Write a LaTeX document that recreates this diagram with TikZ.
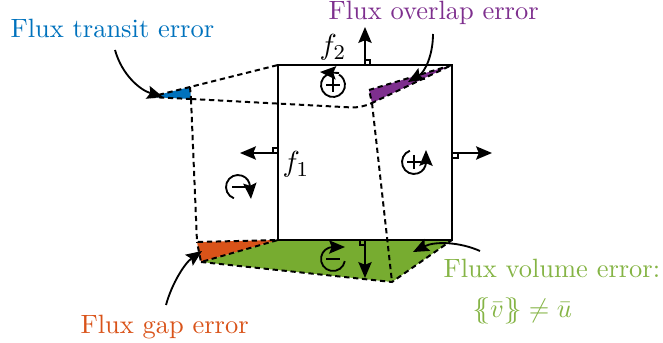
\documentclass[tikz,border=0pt]{standalone}
\usetikzlibrary{arrows.meta}
\definecolor{cblue}{RGB}{0,114,189}
\definecolor{cpurple}{RGB}{126,47,142}
\definecolor{corange}{RGB}{217,83,25}
\definecolor{cgreen}{RGB}{119,172,48}
\tikzset{
  edge/.style={line width=0.75pt,dash pattern=on 2pt off 1.4pt},
  solidl/.style={line width=0.8pt},
  tipped/.style={line width=0.7pt,-{Stealth[length=6pt,width=5pt,inset=1pt]}},
  marker/.style={line width=0.45pt},
  orient/.style={line width=0.7pt},
  lab/.style={inner sep=0pt,anchor=base west},
}
\begin{document}
\begin{tikzpicture}[x=0.378pt,y=-0.378pt]
\useasboundingbox (0,0) rectangle (663,343);
% corners
\coordinate (A) at (278,65);
\coordinate (B) at (452,65);
\coordinate (C) at (452,240);
\coordinate (D) at (278,240);
\coordinate (T1) at (150,97);
\coordinate (T2) at (190,87);
\coordinate (T3) at (191,99);
\coordinate (P1) at (369,90);
\coordinate (P2) at (372,103);
\coordinate (O1) at (197,242);
\coordinate (O2) at (201,262);
\coordinate (G) at (392,282);
% fills
\fill[cgreen] (D) -- (C) -- (G) -- (O2) -- cycle;
\fill[corange] (O1) -- (D) -- (O2) -- cycle;
\fill[cblue] (T1) -- (T2) -- (T3) -- cycle;
\fill[cpurple] (P1) -- (B) -- (P2) -- cycle;
% square
\draw[solidl,line join=miter] (A) -- (B) -- (C) -- (D) -- cycle;
% dashed deformed cell
\draw[edge] (T1) -- (T2) -- (A);
\draw[edge] (T1) -- (T3);
\draw[edge] (T2) -- (T3);
\draw[edge,rounded corners=4pt] (T3) -- (362,108) -- (P2);
\draw[edge] (T3) -- (O1) -- (D) -- (O2) -- (O1);
\draw[edge] (O2) -- (G) -- (C);
\draw[edge] (P2) -- (G);
\draw[edge] (P1) -- (B) -- (P2) -- cycle;
% normals
\coordinate (N1) at (365,65); \coordinate (N1e) at (365,27);
\coordinate (N2) at (278,153); \coordinate (N2e) at (240,153);
\coordinate (N3) at (452,153); \coordinate (N3e) at (492,153);
\coordinate (N4) at (365,240); \coordinate (N4e) at (365,278);
\draw[tipped] (N1) -- (N1e);
\draw[tipped] (N2) -- (N2e);
\draw[tipped] (N3) -- (N3e);
\draw[tipped] (N4) -- (N4e);
\draw[marker] (365,60) -- (370,60) -- (370,65);
\draw[marker] (273,153) -- (273,148) -- (278,148);
\draw[marker] (458,153) -- (458,158) -- (452,158);
\draw[marker] (365,245) -- (360,245) -- (360,240);
% orientation markers (code angle = minus the visual angle, the y axis is flipped)
\coordinate (M1) at (333,85);
\coordinate (M2) at (414,162);
\coordinate (M3) at (238,187);
\coordinate (M4) at (333,259);
\draw[orient] (M1) ++(-120:12) arc[start angle=-120,end angle=-420,radius=12];
\draw[tipped] (339,73) -- (320,72);
\draw[orient] (326,85) -- (340,85) (333,78) -- (333,92);
\draw[orient] (M2) ++(-110:12) arc[start angle=-110,end angle=-360,radius=12];
\draw[tipped] (426,163) -- (426,150);
\draw[orient] (407,162) -- (421,162) (414,155) -- (414,169);
\draw[orient] (M3) ++(-250:12) arc[start angle=-250,end angle=0,radius=12];
\draw[tipped] (250,186) -- (251,199);
\draw[orient] (232,187) -- (247,187);
\draw[orient] (M4) ++(10:12) arc[start angle=10,end angle=270,radius=12];
\draw[tipped] (331,247) -- (345,247);
\draw[orient] (326,259) -- (340,259);
% labels
\node[lab] (f1) at (282,172) {\fontsize{11}{13}\selectfont$f_1$};
\node[lab] (f2) at (319,55) {\fontsize{11}{13}\selectfont$f_2$};
\node[lab,text=cblue] (ltransit) at (10,38) {Flux transit error};
\node[lab,text=cpurple] (loverlap) at (328,20) {Flux overlap error};
\node[lab,text=corange] (lgap) at (80,333) {Flux gap error};
\node[lab,text=cgreen!90!white] (lvol) at (443,278) {Flux volume error:};
\node[lab,text=cgreen!90!white] (lvol2) at (472,318) {$\{\!\!\{\bar v\}\!\!\}\neq\bar u$};
% callouts
\coordinate (c1) at (115,50); \coordinate (c1e) at (163,97);
\coordinate (c2) at (433,34); \coordinate (c2e) at (408,82);
\coordinate (c3) at (166,305); \coordinate (c3e) at (202,251);
\coordinate (c4) at (480,251); \coordinate (c4e) at (413,252);
\draw[tipped] (c1) .. controls (122,75) and (140,90) .. (c1e);
\draw[tipped] (c2) .. controls (433,55) and (425,72) .. (c2e);
\draw[tipped] (c3) .. controls (172,283) and (185,263) .. (c3e);
\draw[tipped] (c4) .. controls (460,242) and (435,241) .. (c4e);
\end{tikzpicture}
\end{document}
